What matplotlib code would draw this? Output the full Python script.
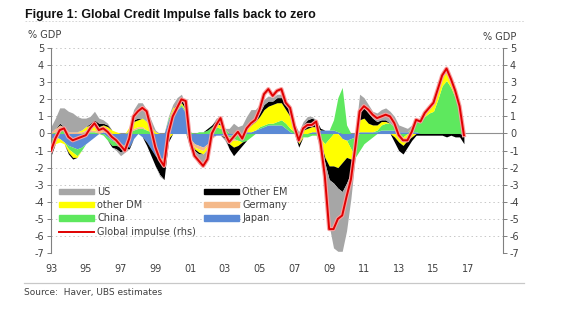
import numpy as np
import matplotlib
matplotlib.use("Agg")
import matplotlib.pyplot as plt
from matplotlib.patches import Patch
from matplotlib.lines import Line2D

# quarterly dates, 1993Q1 .. 2016Q4
dates = 1993.0 + 0.25 * np.arange(96)

us = [0.3, 0.6, 0.9, 1.1, 1.2, 1.1, 0.9, 0.7, 0.5,
      0.4, 0.5, 0.3, 0.2, 0.1, 0.0, -0.1, -0.2,
      -0.2, 0.0, 0.6, 0.9, 0.9, 0.7, 0.4, 0.1,
      -0.1, 0.0, 0.1, 0.2, 0.3, 0.3, 0.2, -0.2,
      -0.4, -0.6, -0.7, -0.5, 0.0, 0.1, 0.2, -0.1,
      0.3, 0.6, 0.4, 0.5, 0.7, 0.8, 0.6, 0.5,
      0.3, 0.3, 0.2, 0.2, 0.2, 0.1, 0.1, 0.0,
      0.1, 0.2, 0.2, 0.1, 0.0, -0.5, -1.3, -2.7,
      -3.8, -3.7, -3.5, -2.8, -1.5, 0.0, 0.9, 0.6,
      0.5, 0.4, 0.5, 0.6, 0.7, 0.7, 0.6, 0.4,
      0.3, 0.2, 0.1, 0.0, 0.0, 0.0, 0.0, 0.0,
      0.1, 0.2, 0.2, 0.1, 0.1, 0.0, 0.0]
japan = [-0.3, -0.2, -0.3, -0.5, -0.7, -0.8, -0.9, -0.8, -0.6,
         -0.4, -0.2, 0.0, 0.1, -0.2, -0.4, -0.5, -0.6,
         -0.7, -0.8, -0.3, 0.0, -0.2, -0.5, -0.9, -1.3,
         -1.5, -1.4, 0.8, 1.2, 1.4, 1.6, 1.2, -0.3,
         -0.6, -0.7, -0.8, -0.6, -0.2, -0.1, -0.1, -0.1,
         -0.1, -0.1, 0.0, 0.0, 0.1, 0.1, 0.2, 0.3,
         0.4, 0.5, 0.5, 0.5, 0.5, 0.3, 0.1, 0.0,
         0.0, 0.0, 0.0, 0.1, 0.1, 0.2, 0.2, 0.2,
         0.2, 0.1, -0.3, -0.4, -0.3, -0.2, 0.1, 0.1,
         0.1, 0.1, 0.1, 0.2, 0.2, 0.2, 0.2, 0.1,
         0.1, 0.1, 0.1, 0.1, 0.0, 0.0, 0.0, 0.0,
         0.0, 0.0, 0.0, 0.0, 0.0, 0.0, -0.1]
china = [-0.3, 0.1, 0.3, 0.2, -0.2, -0.3, -0.4, -0.2, 0.1,
         0.1, 0.1, 0.0, -0.1, -0.2, -0.3, -0.2, -0.1,
         0.0, 0.1, 0.2, 0.3, 0.3, 0.2, 0.1, 0.0,
         -0.1, 0.0, 0.1, 0.1, 0.1, 0.1, 0.1, 0.1,
         0.0, 0.1, 0.1, 0.2, 0.4, 0.4, 0.3, 0.3,
         -0.1, -0.2, -0.4, -0.5, -0.4, -0.2, 0.0, 0.1,
         0.1, 0.1, 0.1, 0.2, 0.3, 0.3, 0.2, 0.1,
         -0.3, -0.2, -0.2, -0.1, -0.1, -0.3, -0.6, -0.3,
         0.6, 2.0, 2.7, 0.5, -0.6, -1.2, -1.0, -0.6,
         -0.4, -0.2, 0.1, 0.3, 0.4, 0.4, 0.2, -0.1,
         -0.2, 0.0, 0.3, 0.6, 0.7, 1.0, 1.2, 1.3,
         2.0, 2.8, 3.1, 2.7, 2.1, 1.3, 0.0]
germany = [0.1, 0.2, 0.2, 0.2, 0.1, 0.1, 0.1, 0.1, 0.1,
           0.1, 0.1, 0.1, 0.1, 0.1, 0.0, 0.0, -0.1,
           0.0, 0.1, 0.1, 0.1, 0.1, 0.0, 0.0, 0.0,
           0.0, 0.0, 0.0, 0.0, 0.0, 0.0, 0.0, 0.0,
           -0.2, -0.2, -0.2, -0.1, -0.1, 0.0, 0.0, -0.1,
           -0.1, -0.1, 0.0, 0.0, 0.0, 0.0, 0.0, 0.0,
           0.0, 0.0, 0.0, 0.0, 0.0, 0.0, 0.0, 0.0,
           0.0, 0.0, 0.0, 0.0, 0.0, 0.0, 0.0, 0.0,
           0.0, 0.0, 0.0, 0.0, 0.0, 0.0, 0.0, 0.0,
           0.0, 0.0, 0.0, 0.0, 0.0, 0.0, 0.0, 0.0,
           0.0, 0.0, 0.0, 0.0, 0.0, 0.0, 0.0, 0.0,
           0.0, 0.0, 0.0, 0.0, 0.0, 0.0, 0.0]
other_dm = [-0.5, -0.4, -0.2, -0.1, -0.2, -0.3, -0.1, 0.1, 0.2,
            0.3, 0.4, 0.3, 0.3, 0.3, 0.2, 0.1, 0.0,
            0.0, 0.2, 0.4, 0.4, 0.5, 0.5, 0.3, 0.1,
            0.0, -0.2, -0.3, 0.2, 0.2, 0.1, 0.1, -0.2,
            -0.1, -0.2, -0.2, -0.2, 0.0, 0.2, 0.2, 0.0,
            -0.3, -0.4, -0.3, 0.0, 0.2, 0.4, 0.5, 0.6,
            0.9, 1.0, 1.1, 1.1, 1.0, 0.8, 0.7, 0.3,
            -0.3, 0.2, 0.3, 0.3, 0.3, -0.2, -0.8, -1.6,
            -1.9, -2.0, -1.4, -1.0, -0.6, 0.0, 0.7, 0.8,
            0.5, 0.4, 0.3, 0.2, 0.1, 0.0, -0.2, -0.4,
            -0.5, -0.4, -0.2, 0.1, 0.2, 0.3, 0.4, 0.4,
            0.5, 0.5, 0.5, 0.4, 0.3, 0.3, 0.1]
other_em = [-0.2, 0.0, 0.1, 0.0, -0.1, -0.1, 0.0, 0.0, 0.0,
            0.1, 0.2, 0.2, 0.1, 0.1, -0.1, -0.2, -0.3,
            -0.2, -0.1, 0.1, 0.1, 0.0, -0.2, -0.4, -0.6,
            -0.8, -1.1, -0.2, 0.0, 0.1, 0.2, 0.1, -0.2,
            -0.1, -0.1, 0.0, 0.1, 0.1, 0.2, 0.3, -0.1,
            -0.3, -0.5, -0.3, -0.2, 0.0, 0.1, 0.1, 0.2,
            0.3, 0.3, 0.2, 0.3, 0.3, 0.4, 0.4, 0.2,
            -0.2, 0.3, 0.5, 0.5, 0.4, 0.1, -0.3, -0.8,
            -1.0, -1.2, -1.7, -1.5, -0.8, 0.0, 0.6, 0.6,
            0.6, 0.4, 0.2, 0.1, 0.1, 0.0, -0.3, -0.5,
            -0.5, -0.4, -0.2, -0.1, -0.1, -0.1, -0.1, -0.1,
            -0.1, -0.1, -0.2, -0.1, -0.2, -0.2, -0.5]
global_impulse = [-1.0, -0.3, 0.2, 0.3, -0.2, -0.4, -0.3, -0.2, -0.1,
                  0.3, 0.6, 0.2, 0.3, 0.1, -0.2, -0.4, -0.7,
                  -1.0, -0.3, 1.0, 1.3, 1.5, 1.3, 0.3, -0.8,
                  -1.5, -1.9, 0.0, 1.0, 1.5, 2.0, 1.9, -0.4,
                  -1.3, -1.6, -1.9, -1.5, 0.0, 0.5, 0.9, 0.0,
                  -0.5, -0.2, 0.1, -0.3, 0.3, 0.6, 0.8, 1.4,
                  2.3, 2.6, 2.2, 2.5, 2.6, 1.8, 1.5, 0.4,
                  -0.4, 0.3, 0.5, 0.5, 0.7, -0.5, -2.5, -5.6,
                  -5.6, -5.0, -4.8, -3.7, -2.7, -0.8, 1.3, 1.6,
                  1.4, 1.1, 0.9, 1.0, 1.1, 1.0, 0.6, -0.1,
                  -0.4, -0.4, 0.1, 0.8, 0.7, 1.2, 1.5, 1.8,
                  2.6, 3.4, 3.8, 3.2, 2.5, 1.6, -0.1]

# stacking order from zero outward
stack_names = ["Japan", "China", "Germany", "other DM", "Other EM", "US"]
stack_data = [japan, china, germany, other_dm, other_em, us]
colors = {"US": "#a6a6a6", "other DM": "#ffff00", "China": "#5ee85e",
          "Other EM": "#000000", "Germany": "#f4b98a", "Japan": "#5b8ad6"}

yticks = list(range(-7, 6))
xtick_years = list(range(1993, 2018, 2))
xtick_labels = ["%02d" % (y % 100) for y in xtick_years]

fig = plt.figure(figsize=(5.68, 3.25), dpi=100)
ax = fig.add_axes([0.0898, 0.2215, 0.7958, 0.6305])
ax2 = ax.twinx()

grey_txt = "#404040"

for v in yticks:
    if v == 0:
        continue
    ax.axhline(v, color="#c8c8c8", lw=0.7, ls=(0, (1.5, 3)), zorder=0)
ax.axhline(0, color="#909090", lw=0.8, zorder=1)

pos_base = np.zeros(len(dates))
neg_base = np.zeros(len(dates))
for name, vals in zip(stack_names, stack_data):
    vals = np.array(vals)
    pos = np.clip(vals, 0, None)
    neg = np.clip(vals, None, 0)
    ax.fill_between(dates, pos_base, pos_base + pos, color=colors[name], lw=0, zorder=2)
    ax.fill_between(dates, neg_base, neg_base + neg, color=colors[name], lw=0, zorder=2)
    pos_base = pos_base + pos
    neg_base = neg_base + neg

ax2.plot(dates, global_impulse, color="#f7a0a0", lw=3.0, solid_joinstyle="round", zorder=3)
ax2.plot(dates, global_impulse, color="#e00000", lw=1.4, solid_joinstyle="round", zorder=4)

for a in (ax, ax2):
    a.set_ylim(-7, 5)
    a.set_yticks(yticks)
    a.set_xlim(1993, 2019)
    for s in ("top", "bottom"):
        a.spines[s].set_visible(False)
    a.tick_params(axis="y", length=3, width=0.7, color="#808080",
                  labelsize=7, labelcolor=grey_txt, pad=2)
ax.spines["left"].set_color("#808080")
ax.spines["left"].set_linewidth(0.8)
ax.spines["right"].set_visible(False)
ax2.spines["left"].set_visible(False)
ax2.spines["right"].set_color("#808080")
ax2.spines["right"].set_linewidth(0.8)
ax.set_yticklabels([str(v) for v in yticks])
ax2.set_yticklabels([str(v) for v in yticks])

ax.set_xticks(xtick_years)
ax.set_xticklabels(xtick_labels)
ax.tick_params(axis="x", length=0, labelsize=7, labelcolor=grey_txt, pad=8)

ax.set_zorder(ax2.get_zorder() - 1)
ax.patch.set_visible(False)

handles = [Patch(color=colors["US"]), Patch(color=colors["other DM"]),
           Patch(color=colors["China"]),
           Line2D([], [], color="#e00000", lw=1.4),
           Patch(color=colors["Other EM"]), Patch(color=colors["Germany"]),
           Patch(color=colors["Japan"])]
labels = ["US", "other DM", "China", "Global impulse (rhs)",
          "Other EM", "Germany", "Japan"]
leg = ax2.legend(handles, labels, ncol=2, loc="lower left",
                 bbox_to_anchor=(0.01, 0.06), frameon=False, fontsize=7,
                 handlelength=3.6, handleheight=0.45, handletextpad=0.3,
                 columnspacing=0.85, labelspacing=0.35, borderaxespad=0)
for t in leg.get_texts():
    t.set_color(grey_txt)

fig.text(0.044, 0.955, "Figure 1: Global Credit Impulse falls back to zero",
         fontsize=9, fontweight="bold", family="Liberation Sans",
         color="#111111", va="center")
fig.add_artist(Line2D([0.044, 0.925], [0.935, 0.935], color="#d0d0d0",
                      lw=0.6, ls=(0, (2, 2))))
fig.text(0.05, 0.892, "% GDP", fontsize=7, color=grey_txt, va="center")
fig.text(0.85, 0.885, "% GDP", fontsize=7, color=grey_txt, va="center")
fig.add_artist(Line2D([0.042, 0.922], [0.129, 0.129], color="#c8c8c8", lw=0.9))
fig.text(0.042, 0.1, "Source:  Haver, UBS estimates", fontsize=6.5,
         color=grey_txt, va="center")

fig.savefig("out.png", dpi=100, facecolor="white")
